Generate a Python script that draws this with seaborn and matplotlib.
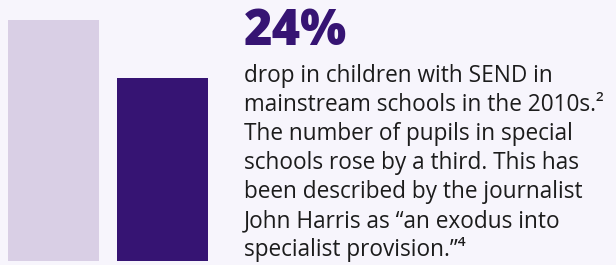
import numpy as np
import pandas as pd
import seaborn as sns
import matplotlib.pyplot as plt

# data
periods = ["Start of 2010s", "End of 2010s"]
send_share = [100, 76]          # indexed, 24% drop
headline = "24%"
body_lines = [
    "drop in children with SEND in",
    "mainstream schools in the 2010s.\u00b2",
    "The number of pupils in special",
    "schools rose by a third. This has",
    "been described by the journalist",
    "John Harris as \u201can exodus into",
    "specialist provision.\u201d\u2074",
]

bg = "#f7f5fc"
light = "#d9cfe5"
dark = "#361473"

sns.set_theme(style="white")
plt.rcParams['font.family'] = ['Open Sans', 'DejaVu Sans']

W, H = 616, 265
fig = plt.figure(figsize=(W / 100, H / 100), dpi=100)
fig.patch.set_facecolor(bg)

# bars axes: px 0..230 wide, bottom at y=261
ax = fig.add_axes([0, 4 / H, 230 / W, 261 / H])
ax.set_facecolor(bg)
df = pd.DataFrame({"period": periods, "value": send_share})
sns.barplot(data=df, x="period", y="value", hue="period",
            palette=[light, dark], width=91 / 109, legend=False,
            saturation=1, edgecolor="none", linewidth=0, ax=ax)
ax.set_ylim(0, 100 * 261 / 241)
ax.set_xlim(-53.5 / 109, (230 - 53.5) / 109)
ax.axis("off")

# headline number
fig.text(244 / W, 1 - 45 / H, headline, fontsize=35, fontweight=900,
         color=dark, va="baseline", ha="left")

# body text
y0, step = 82, 29
for i, line in enumerate(body_lines):
    fig.text(244 / W, 1 - (y0 + i * step) / H, line, fontsize=16.3,
             color="#1c1c1c", va="baseline", ha="left")

fig.savefig("out.png", dpi=100, facecolor=bg)
